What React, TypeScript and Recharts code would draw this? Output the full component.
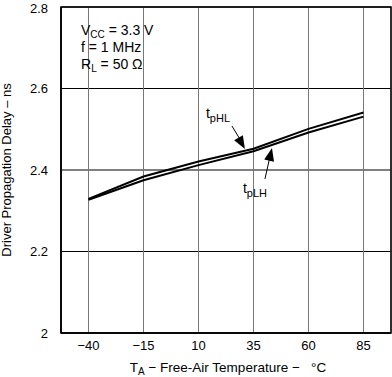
import {
  CartesianGrid,
  Line,
  LineChart,
  ReferenceArea,
  ReferenceDot,
  ReferenceLine,
  XAxis,
  YAxis,
} from "recharts";

const temps = [-40, -15, 10, 35, 60, 85];
const tpHL = [2.329, 2.384, 2.421, 2.452, 2.501, 2.541];
const tpLH = [2.327, 2.375, 2.412, 2.446, 2.492, 2.531];
const yTicks = [2, 2.2, 2.4, 2.6, 2.8];

const FONT = "'Liberation Sans', Arial, sans-serif";

const data = temps.map((t, i) => ({ t, tpHL: tpHL[i], tpLH: tpLH[i] }));

// arrowhead pointing along (dx, dy), tip at cx, cy
function arrowHead(dx: number, dy: number) {
  return (props: any) => {
    const { cx, cy } = props;
    const len = Math.hypot(dx, dy);
    const ux = dx / len;
    const uy = dy / len;
    const bx = cx - ux * 13;
    const by = cy - uy * 13;
    const px = -uy * 5;
    const py = ux * 5;
    return (
      <polygon
        points={`${cx},${cy} ${bx + px},${by + py} ${bx - px},${by - py}`}
        fill="#000"
      />
    );
  };
}

function subLabel(main: string, sub: string) {
  return (props: any) => (
    <text x={props.cx} y={props.cy} fontFamily={FONT} fontSize={14} fill="#000">
      {main}
      <tspan dy={4} fontSize={11}>
        {sub}
      </tspan>
    </text>
  );
}

const conditions = (props: any) => {
  const { cx, cy } = props;
  return (
    <text x={cx} y={cy} fontFamily={FONT} fontSize={14} fill="#000">
      <tspan x={cx}>V</tspan>
      <tspan dy={3} fontSize={10}>CC</tspan>
      <tspan dy={-3}> = 3.3 V</tspan>
      <tspan x={cx} dy={17}>f = 1 MHz</tspan>
      <tspan x={cx} dy={17}>R</tspan>
      <tspan dy={3} fontSize={10}>L</tspan>
      <tspan dy={-3}> = 50 Ω</tspan>
    </text>
  );
};

export default function App() {
  return (
    <div style={{ position: "absolute", left: 0, top: 0, background: "#fff" }}>
      <LineChart
        width={392}
        height={377}
        data={data}
        margin={{ top: 7, right: 1, bottom: 0, left: 0 }}
      >
        <CartesianGrid vertical={false} stroke="#000" />
        <CartesianGrid horizontal={false} stroke="#777" />
        <ReferenceArea
          x1={-52.5}
          x2={97.5}
          y1={2}
          y2={2.8}
          fill="none"
          stroke="#000"
          strokeWidth={1.5}
        />
        <XAxis
          dataKey="t"
          type="number"
          domain={[-52.5, 97.5]}
          ticks={temps}
          height={44}
          tickLine={false}
          axisLine={{ stroke: "#000", strokeWidth: 1.5 }}
          tick={{ fontFamily: FONT, fontSize: 13, fill: "#000" }}
          tickFormatter={(v: number) => String(v).replace("-", "\u2212")}
          label={(p: any) => {
            const vb = p.viewBox;
            return (
              <text
                x={vb.x + vb.width / 2 + 2}
                y={372}
                textAnchor="middle"
                fontFamily={FONT}
                fontSize={13.5}
                fill="#000"
              >
                T<tspan dy={3} fontSize={10}>A</tspan>
                <tspan dy={-3}>{" \u2212 Free-Air Temperature \u2212 \u00a0\u00a0°C"}</tspan>
              </text>
            );
          }}
        />
        <YAxis
          type="number"
          domain={[2, 2.8]}
          ticks={yTicks}
          width={61}
          tickLine={false}
          axisLine={{ stroke: "#000", strokeWidth: 1.5 }}
          tick={{ fontFamily: FONT, fontSize: 13, fill: "#000" }}
          tickMargin={7}
          label={(p: any) => {
            const vb = p.viewBox;
            const cy = vb.y + vb.height / 2;
            return (
              <text
                x={11}
                y={cy}
                transform={`rotate(-90 11 ${cy})`}
                textAnchor="middle"
                fontFamily={FONT}
                fontSize={13}
                fill="#000"
              >
                Driver Propagation Delay – ns
              </text>
            );
          }}
        />
        <Line
          dataKey="tpHL"
          stroke="#000"
          strokeWidth={2}
          dot={false}
          isAnimationActive={false}
        />
        <Line
          dataKey="tpLH"
          stroke="#000"
          strokeWidth={2}
          dot={false}
          isAnimationActive={false}
        />
        <ReferenceLine
          segment={[
            { x: 25.2, y: 2.508 },
            { x: 30.6, y: 2.46 },
          ]}
          stroke="#000"
          strokeWidth={1}
        />
        <ReferenceDot x={31.1} y={2.4515} shape={arrowHead(13, 23)} />
        <ReferenceLine
          segment={[
            { x: 40.2, y: 2.378 },
            { x: 43.0, y: 2.445 },
          ]}
          stroke="#000"
          strokeWidth={1}
        />
        <ReferenceDot x={43.4} y={2.454} shape={arrowHead(7, -31)} />
        <ReferenceDot x={13.4} y={2.528} shape={subLabel("t", "pHL")} />
        <ReferenceDot x={30.2} y={2.344} shape={subLabel("t", "pLH")} />
        <ReferenceDot x={-43.4} y={2.731} shape={conditions} />
      </LineChart>
    </div>
  );
}
